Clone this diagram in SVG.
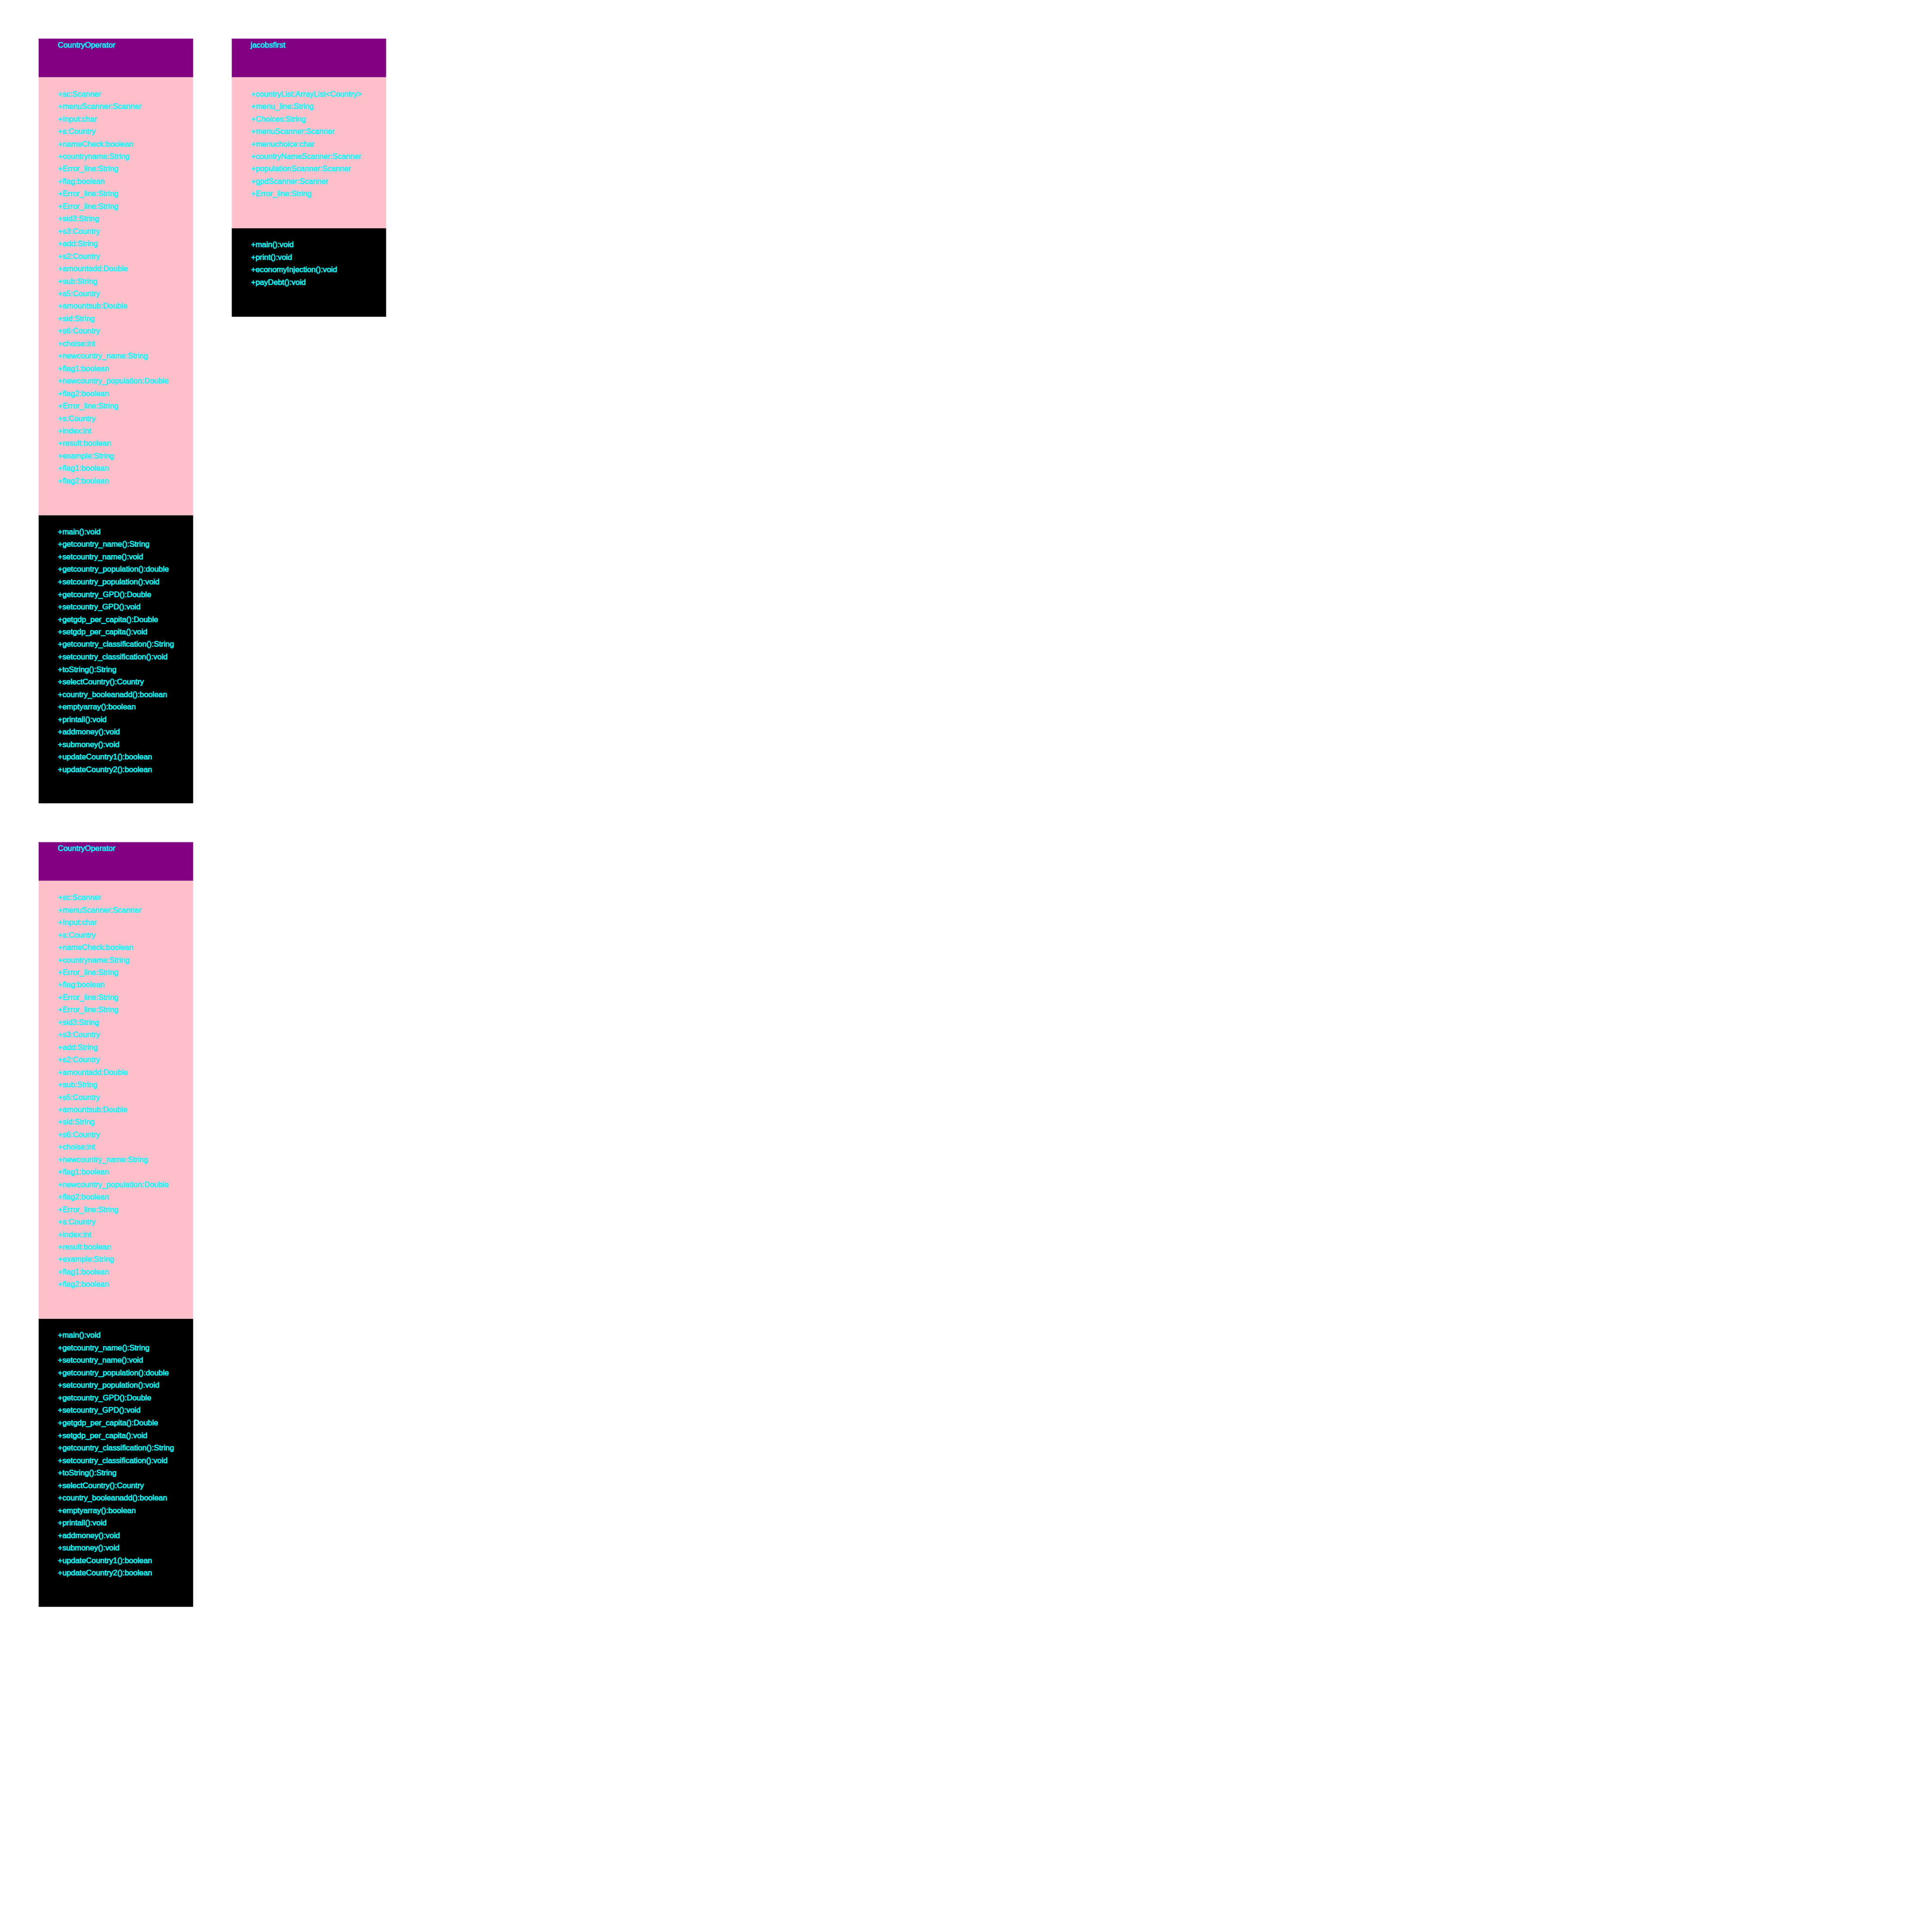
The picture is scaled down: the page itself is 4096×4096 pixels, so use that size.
<svg xmlns="http://www.w3.org/2000/svg" width="4096" height="4096" viewBox="0 0 4096 4096">
<style>
.hd{fill:#800080}
.at{fill:#FFC0CB}
.mt{fill:#000000}
text{font-family:"Liberation Sans",Arial,sans-serif;font-size:20px;fill:#00FFFF;stroke:#00FFFF;stroke-width:0.9}
</style>
<rect width="4096" height="4096" fill="#ffffff"/>
<g transform="scale(0.819)">
<g id="node-countryoperator-1">
<rect class="hd" x="100" y="100" width="400" height="100"/>
<rect class="at" x="100" y="200" width="400" height="1134"/>
<rect class="mt" x="100" y="1334" width="400" height="745.5"/>
<text x="150" y="123">CountryOperator</text>
<text x="150" y="250">+sc:Scanner</text>
<text x="150" y="282.3">+menuScanner:Scanner</text>
<text x="150" y="314.6">+Input:char</text>
<text x="150" y="346.9">+s:Country</text>
<text x="150" y="379.2">+nameCheck:boolean</text>
<text x="150" y="411.5">+countryname:String</text>
<text x="150" y="443.8">+Error_line:String</text>
<text x="150" y="476.1">+flag:boolean</text>
<text x="150" y="508.4">+Error_line:String</text>
<text x="150" y="540.7">+Error_line:String</text>
<text x="150" y="573">+sid3:String</text>
<text x="150" y="605.3">+s3:Country</text>
<text x="150" y="637.6">+add:String</text>
<text x="150" y="669.9">+s2:Country</text>
<text x="150" y="702.2">+amountadd:Double</text>
<text x="150" y="734.5">+sub:String</text>
<text x="150" y="766.8">+s5:Country</text>
<text x="150" y="799.1">+amountsub:Double</text>
<text x="150" y="831.4">+sid:String</text>
<text x="150" y="863.7">+s6:Country</text>
<text x="150" y="896">+choise:int</text>
<text x="150" y="928.3">+newcountry_name:String</text>
<text x="150" y="960.6">+flag1:boolean</text>
<text x="150" y="992.9">+newcountry_population:Double</text>
<text x="150" y="1025.2">+flag2:boolean</text>
<text x="150" y="1057.5">+Error_line:String</text>
<text x="150" y="1089.8">+s:Country</text>
<text x="150" y="1122.1">+index:int</text>
<text x="150" y="1154.4">+result:boolean</text>
<text x="150" y="1186.7">+example:String</text>
<text x="150" y="1219">+flag1:boolean</text>
<text x="150" y="1251.3">+flag2:boolean</text>
<text x="150" y="1383.3">+main():void</text>
<text x="150" y="1415.7">+getcountry_name():String</text>
<text x="150" y="1448">+setcountry_name():void</text>
<text x="150" y="1480.4">+getcountry_population():double</text>
<text x="150" y="1512.8">+setcountry_population():void</text>
<text x="150" y="1545.2">+getcountry_GPD():Double</text>
<text x="150" y="1577.5">+setcountry_GPD():void</text>
<text x="150" y="1609.9">+getgdp_per_capita():Double</text>
<text x="150" y="1642.3">+setgdp_per_capita():void</text>
<text x="150" y="1674.6">+getcountry_classification():String</text>
<text x="150" y="1707">+setcountry_classification():void</text>
<text x="150" y="1739.4">+toString():String</text>
<text x="150" y="1771.8">+selectCountry():Country</text>
<text x="150" y="1804.1">+country_booleanadd():boolean</text>
<text x="150" y="1836.5">+emptyarray():boolean</text>
<text x="150" y="1868.9">+printall():void</text>
<text x="150" y="1901.3">+addmoney():void</text>
<text x="150" y="1933.6">+submoney():void</text>
<text x="150" y="1966">+updateCountry1():boolean</text>
<text x="150" y="1998.3">+updateCountry2():boolean</text>
</g>
<g id="node-jacobsfirst">
<rect class="hd" x="600" y="100" width="399.5" height="100"/>
<rect class="at" x="600" y="200" width="399.5" height="391"/>
<rect class="mt" x="600" y="591" width="399.5" height="229"/>
<text x="649" y="123">jacobsfirst</text>
<text x="650" y="250">+countryList:ArrayList&lt;Country&gt;</text>
<text x="650" y="282.3">+menu_line:String</text>
<text x="650" y="314.6">+Choices:String</text>
<text x="650" y="346.9">+menuScanner:Scanner</text>
<text x="650" y="379.2">+menuchoice:char</text>
<text x="650" y="411.5">+countryNameScanner:Scanner</text>
<text x="650" y="443.8">+populationScanner:Scanner</text>
<text x="650" y="476.1">+gpdScanner:Scanner</text>
<text x="650" y="508.4">+Error_line:String</text>
<text x="650" y="640">+main():void</text>
<text x="650" y="672.4">+print():void</text>
<text x="650" y="704.8">+economyInjection():void</text>
<text x="650" y="737.1">+payDebt():void</text>
</g>
<g id="node-countryoperator-2" transform="translate(0,2080)">
<rect class="hd" x="100" y="100" width="400" height="100"/>
<rect class="at" x="100" y="200" width="400" height="1134"/>
<rect class="mt" x="100" y="1334" width="400" height="745.5"/>
<text x="150" y="123">CountryOperator</text>
<text x="150" y="250">+sc:Scanner</text>
<text x="150" y="282.3">+menuScanner:Scanner</text>
<text x="150" y="314.6">+Input:char</text>
<text x="150" y="346.9">+s:Country</text>
<text x="150" y="379.2">+nameCheck:boolean</text>
<text x="150" y="411.5">+countryname:String</text>
<text x="150" y="443.8">+Error_line:String</text>
<text x="150" y="476.1">+flag:boolean</text>
<text x="150" y="508.4">+Error_line:String</text>
<text x="150" y="540.7">+Error_line:String</text>
<text x="150" y="573">+sid3:String</text>
<text x="150" y="605.3">+s3:Country</text>
<text x="150" y="637.6">+add:String</text>
<text x="150" y="669.9">+s2:Country</text>
<text x="150" y="702.2">+amountadd:Double</text>
<text x="150" y="734.5">+sub:String</text>
<text x="150" y="766.8">+s5:Country</text>
<text x="150" y="799.1">+amountsub:Double</text>
<text x="150" y="831.4">+sid:String</text>
<text x="150" y="863.7">+s6:Country</text>
<text x="150" y="896">+choise:int</text>
<text x="150" y="928.3">+newcountry_name:String</text>
<text x="150" y="960.6">+flag1:boolean</text>
<text x="150" y="992.9">+newcountry_population:Double</text>
<text x="150" y="1025.2">+flag2:boolean</text>
<text x="150" y="1057.5">+Error_line:String</text>
<text x="150" y="1089.8">+s:Country</text>
<text x="150" y="1122.1">+index:int</text>
<text x="150" y="1154.4">+result:boolean</text>
<text x="150" y="1186.7">+example:String</text>
<text x="150" y="1219">+flag1:boolean</text>
<text x="150" y="1251.3">+flag2:boolean</text>
<text x="150" y="1383.3">+main():void</text>
<text x="150" y="1415.7">+getcountry_name():String</text>
<text x="150" y="1448">+setcountry_name():void</text>
<text x="150" y="1480.4">+getcountry_population():double</text>
<text x="150" y="1512.8">+setcountry_population():void</text>
<text x="150" y="1545.2">+getcountry_GPD():Double</text>
<text x="150" y="1577.5">+setcountry_GPD():void</text>
<text x="150" y="1609.9">+getgdp_per_capita():Double</text>
<text x="150" y="1642.3">+setgdp_per_capita():void</text>
<text x="150" y="1674.6">+getcountry_classification():String</text>
<text x="150" y="1707">+setcountry_classification():void</text>
<text x="150" y="1739.4">+toString():String</text>
<text x="150" y="1771.8">+selectCountry():Country</text>
<text x="150" y="1804.1">+country_booleanadd():boolean</text>
<text x="150" y="1836.5">+emptyarray():boolean</text>
<text x="150" y="1868.9">+printall():void</text>
<text x="150" y="1901.3">+addmoney():void</text>
<text x="150" y="1933.6">+submoney():void</text>
<text x="150" y="1966">+updateCountry1():boolean</text>
<text x="150" y="1998.3">+updateCountry2():boolean</text>
</g>
<g id="connectors"></g>
</g>
</svg>
